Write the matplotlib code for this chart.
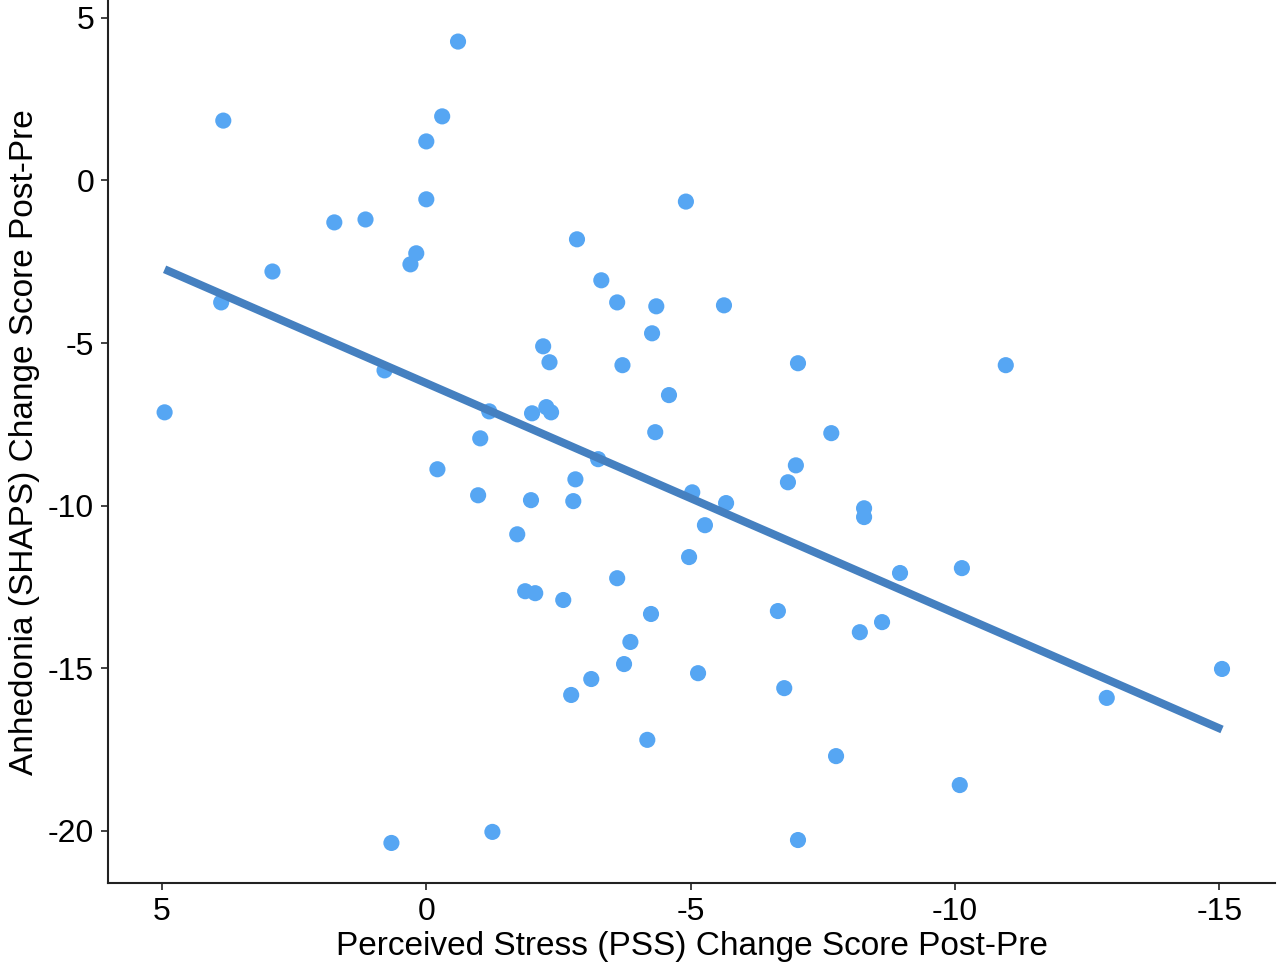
import numpy as np
import matplotlib.pyplot as plt

# mudança no estresse percebido (PSS) e na anedonia (SHAPS), pós - pré
pss_change = [-0.6, 3.84, -0.3, 0.0, 0.0, 1.74, 1.15, 2.91, 0.19, 0.3,
              3.88, 4.95, 0.79, -4.91, -2.85, -3.31, -3.61, -4.35, -5.63, -4.27,
              -2.21, -2.33, -3.71, -7.03, -10.96, -4.59, -1.19, -2.0, -2.27, -2.36,
              -4.33, -7.66, -1.02, -3.25, -6.99, -0.21, -2.82, -6.84, -0.98, -1.98,
              -2.78, -5.03, -5.67, -8.28, -8.28, -5.27, -1.72, -4.97, -10.13, -8.96,
              -3.61, -1.87, -2.06, -2.59, -4.25, -6.65, -8.62, -8.2, -3.86, -3.74,
              -15.05, -5.14, -3.12, -6.77, -2.74, -12.87, -4.18, -7.75, -10.09, 0.66,
              -1.25, -7.03]
shaps_change = [4.27, 1.84, 1.97, 1.2, -0.58, -1.29, -1.2, -2.8, -2.24, -2.58,
                -3.75, -7.13, -5.84, -0.65, -1.81, -3.07, -3.75, -3.87, -3.84, -4.7,
                -5.1, -5.59, -5.68, -5.62, -5.68, -6.6, -7.1, -7.16, -6.97, -7.13,
                -7.74, -7.77, -7.93, -8.57, -8.76, -8.88, -9.19, -9.28, -9.68, -9.83,
                -9.86, -9.59, -9.92, -10.08, -10.35, -10.6, -10.88, -11.58, -11.92, -12.07,
                -12.23, -12.63, -12.69, -12.9, -13.33, -13.24, -13.58, -13.89, -14.19, -14.87,
                -15.02, -15.15, -15.33, -15.61, -15.82, -15.91, -17.2, -17.7, -18.59, -20.37,
                -20.03, -20.28]

x_ticks = [5, 0, -5, -10, -15]
y_ticks = [5, 0, -5, -10, -15, -20]

plt.rcParams["font.family"] = ["Liberation Sans", "DejaVu Sans"]
plt.rcParams["axes.unicode_minus"] = False

x = np.array(pss_change)
y = np.array(shaps_change)
slope, intercept = np.polyfit(x, y, 1)
x_fit = np.array([x.max(), x.min()])
y_fit = intercept + slope * x_fit

fig = plt.figure(figsize=(12.8, 9.75), dpi=100)
ax = fig.add_axes([0.0844, 0.0944, 0.9116, 0.905])

ax.scatter(x, y, s=135, color="#56A6F3", edgecolors="none", zorder=2)
ax.plot(x_fit, y_fit, color="#4580C0", linewidth=5.8, solid_capstyle="butt", zorder=3)

ax.set_xlim(6.02, -16.05)
ax.set_ylim(-21.6, 5.53)
ax.set_xticks(x_ticks)
ax.set_yticks(y_ticks)
ax.tick_params(labelsize=23, length=5, width=1.3, color="#333333", labelcolor="black", pad=5)

for lado in ["top", "right"]:
    ax.spines[lado].set_visible(False)
for lado in ["left", "bottom"]:
    ax.spines[lado].set_linewidth(1.5)
    ax.spines[lado].set_color("#222222")

ax.set_xlabel("Perceived Stress (PSS) Change Score Post-Pre", fontsize=24, labelpad=3)
ax.set_ylabel("Anhedonia (SHAPS) Change Score Post-Pre", fontsize=24, labelpad=6)

fig.savefig("out.png", dpi=100)
